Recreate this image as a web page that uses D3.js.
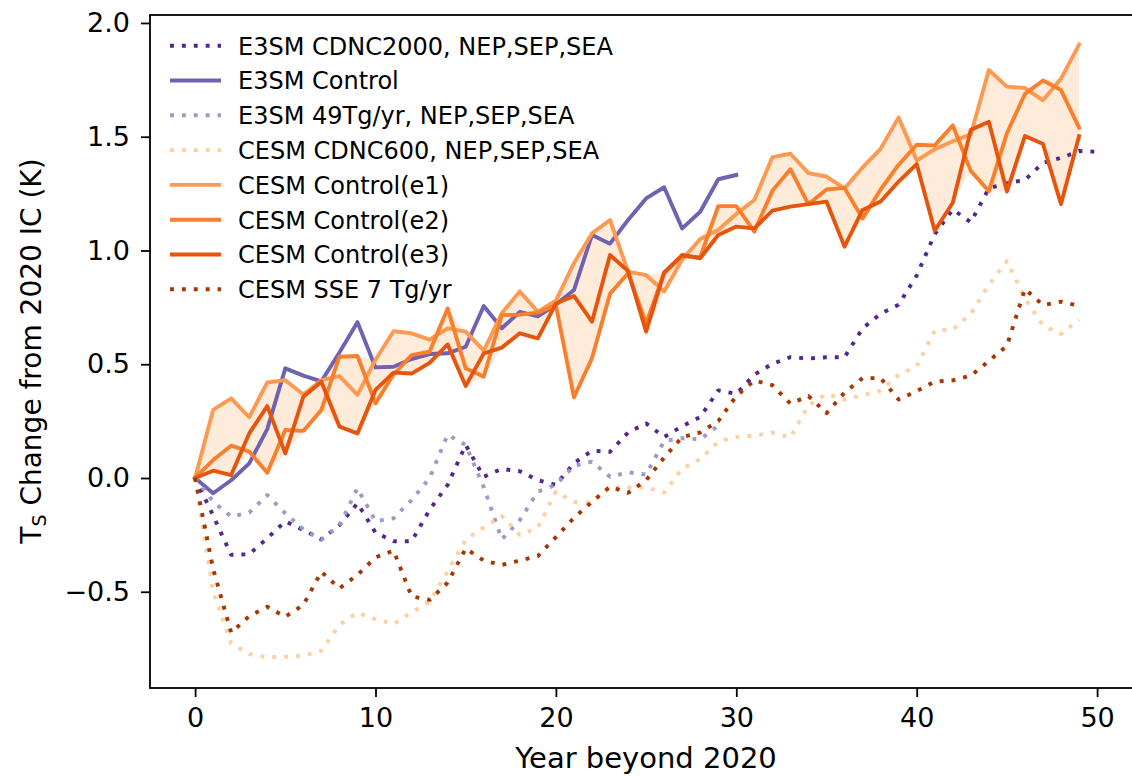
<!DOCTYPE html>
<html><head><meta charset="utf-8">
<script src="https://cdn.jsdelivr.net/npm/d3@7"></script>
<style>
body{margin:0;background:#fff}
svg{display:block}
text{font-family:"DejaVu Sans",sans-serif;fill:#000}
</style>
</head><body>
<svg id="chart" width="1132" height="776"></svg>
<script>
// ---- data ----
const e3smCdnc2000 = [0, -0.165, -0.338, -0.335, -0.265, -0.19, -0.229, -0.27, -0.207, -0.111, -0.24, -0.278, -0.278, -0.14, -0.03, 0.145, 0.005, 0.04, 0.03, -0.01, -0.03, 0.065, 0.12, 0.115, 0.2, 0.24, 0.18, 0.228, 0.268, 0.385, 0.37, 0.454, 0.502, 0.531, 0.525, 0.531, 0.531, 0.658, 0.722, 0.762, 0.89, 1.072, 1.18, 1.124, 1.273, 1.296, 1.31, 1.385, 1.407, 1.437, 1.434];
const e3smControl = [0, -0.067, -0.01, 0.064, 0.215, 0.482, 0.45, 0.425, 0.552, 0.685, 0.486, 0.489, 0.523, 0.545, 0.548, 0.577, 0.756, 0.658, 0.73, 0.71, 0.762, 0.826, 1.068, 1.03, 1.134, 1.229, 1.278, 1.097, 1.17, 1.313, 1.332];
const e3sm49Tg = [0, -0.104, -0.17, -0.152, -0.075, -0.155, -0.226, -0.27, -0.21, -0.045, -0.19, -0.177, -0.097, 0.0, 0.19, 0.145, -0.04, -0.27, -0.185, -0.06, -0.03, 0.053, 0.072, 0.005, 0.025, 0.015, 0.163, 0.175, 0.17, 0.23];
const cesmCdnc600 = [0, -0.5, -0.727, -0.774, -0.788, -0.785, -0.782, -0.759, -0.646, -0.592, -0.621, -0.642, -0.59, -0.544, -0.41, -0.27, -0.217, -0.167, -0.25, -0.218, -0.06, -0.105, -0.108, -0.041, -0.041, -0.041, -0.064, 0.042, 0.082, 0.16, 0.18, 0.186, 0.2, 0.178, 0.32, 0.369, 0.345, 0.364, 0.384, 0.453, 0.491, 0.648, 0.652, 0.722, 0.849, 0.953, 0.789, 0.67, 0.633, 0.696];
const cesmE1 = [0, 0.299, 0.35, 0.267, 0.42, 0.43, 0.367, 0.43, 0.448, 0.365, 0.52, 0.645, 0.636, 0.608, 0.658, 0.643, 0.56, 0.724, 0.82, 0.731, 0.78, 0.944, 1.075, 1.134, 0.907, 0.892, 0.82, 0.96, 1.05, 1.09, 1.16, 1.222, 1.41, 1.425, 1.34, 1.325, 1.273, 1.365, 1.447, 1.585, 1.395, 1.445, 1.48, 1.51, 1.793, 1.72, 1.714, 1.66, 1.755, 1.905];
const cesmE2 = [0, 0.079, 0.142, 0.116, 0.023, 0.211, 0.207, 0.299, 0.533, 0.536, 0.328, 0.455, 0.54, 0.555, 0.745, 0.482, 0.445, 0.716, 0.718, 0.727, 0.76, 0.355, 0.526, 0.81, 0.9, 0.68, 0.9, 0.975, 0.97, 1.195, 1.195, 1.083, 1.262, 1.357, 1.203, 1.268, 1.275, 1.14, 1.268, 1.377, 1.465, 1.462, 1.55, 1.35, 1.26, 1.515, 1.688, 1.747, 1.705, 1.54];
const cesmE3 = [0, 0.032, 0.013, 0.196, 0.316, 0.108, 0.357, 0.423, 0.226, 0.196, 0.387, 0.463, 0.459, 0.506, 0.587, 0.404, 0.548, 0.573, 0.636, 0.614, 0.767, 0.8, 0.687, 0.98, 0.91, 0.643, 0.904, 0.98, 0.966, 1.068, 1.105, 1.097, 1.175, 1.193, 1.204, 1.215, 1.017, 1.178, 1.215, 1.303, 1.38, 1.087, 1.21, 1.53, 1.566, 1.259, 1.503, 1.468, 1.204, 1.503];
const cesmSse = [0, -0.4, -0.68, -0.607, -0.566, -0.61, -0.558, -0.412, -0.485, -0.426, -0.349, -0.319, -0.52, -0.536, -0.46, -0.31, -0.363, -0.382, -0.363, -0.343, -0.26, -0.175, -0.105, -0.038, -0.065, -0.01, 0.09, 0.18, 0.2, 0.25, 0.36, 0.429, 0.408, 0.327, 0.36, 0.285, 0.375, 0.439, 0.439, 0.345, 0.382, 0.424, 0.429, 0.45, 0.514, 0.581, 0.831, 0.76, 0.775, 0.757];

const seriesNames = ["E3SM CDNC2000, NEP,SEP,SEA", "E3SM Control", "E3SM 49Tg/yr, NEP,SEP,SEA", "CESM CDNC600, NEP,SEP,SEA", "CESM Control(e1)", "CESM Control(e2)", "CESM Control(e3)", "CESM SSE 7 Tg/yr"];
const seriesValues = [e3smCdnc2000, e3smControl, e3sm49Tg, cesmCdnc600, cesmE1, cesmE2, cesmE3, cesmSse];
const xTickValues = [0, 10, 20, 30, 40, 50];
const yTickValues = [-0.5, 0.0, 0.5, 1.0, 1.5, 2.0];

// ---- styles ----
const colors = ["#54278f", "#6f62b0", "#9e9ac8", "#fdd0a2", "#fd9a52", "#f97f2c", "#e6550d", "#a63603"];
const dotted = [true, false, true, true, false, false, false, true];

const svg = d3.select("#chart");
const L = 150, T = 15, R = 1142.2, B = 688;
const x = d3.scaleLinear().domain([-2.5, 52.5]).range([L, R]);
const y = d3.scaleLinear().domain([-0.923, 2.035]).range([B, T]);

// ensemble envelope
const envelope = cesmE1.map((v, i) => ({i, lo: Math.min(v, cesmE2[i], cesmE3[i]), hi: Math.max(v, cesmE2[i], cesmE3[i])}));
svg.append("path")
  .attr("d", d3.area().x(d => x(d.i)).y0(d => y(d.lo)).y1(d => y(d.hi))(envelope))
  .attr("fill", "#fdae6b").attr("fill-opacity", 0.25).attr("stroke", "none");

const line = d3.line().x((d, i) => x(i)).y(d => y(d));
seriesValues.forEach((vals, k) => {
  svg.append("path").attr("d", line(vals))
    .attr("fill", "none").attr("stroke", colors[k])
    .attr("stroke-width", 3.9)
    .attr("stroke-linejoin", "round")
    .attr("stroke-dasharray", dotted[k] ? "3.9,8" : null)
    .attr("stroke-linecap", dotted[k] ? "butt" : "square");
});

// frame
svg.append("rect").attr("x", L).attr("y", T).attr("width", R - L).attr("height", B - T)
  .attr("fill", "none").attr("stroke", "#000").attr("stroke-width", 1.8);

// axes
const fmtY = d => d3.format(".1f")(d).replace("-", "\u2212");
const gx = svg.append("g").attr("transform", `translate(0,${B})`)
  .call(d3.axisBottom(x).tickValues(xTickValues).tickSize(9).tickPadding(11).tickFormat(d3.format("d")));
const gy = svg.append("g").attr("transform", `translate(${L},0)`)
  .call(d3.axisLeft(y).tickValues(yTickValues).tickSize(9).tickPadding(11).tickFormat(fmtY));
[gx, gy].forEach(g => {
  g.select(".domain").remove();
  g.selectAll(".tick line").attr("stroke", "#000").attr("stroke-width", 1.8);
  g.selectAll(".tick text").attr("font-size", 27).attr("font-family", "DejaVu Sans").attr("fill", "#000");
});

// axis labels
svg.append("text").attr("x", 646).attr("y", 768).attr("text-anchor", "middle")
  .attr("font-size", 29).text("Year beyond 2020");
const yl = svg.append("text").attr("transform", "translate(41,351) rotate(-90)")
  .attr("text-anchor", "middle").attr("font-size", 28);
yl.append("tspan").text("T");
yl.append("tspan").attr("font-size", 19).attr("dy", 5).text("S");
yl.append("tspan").attr("dy", -5).text(" Change from 2020 IC (K)");

// legend
const leg = svg.append("g");
seriesNames.forEach((name, k) => {
  const cy = 45.7 + 34.8 * k;
  leg.append("line").attr("x1", 170).attr("x2", 221).attr("y1", cy).attr("y2", cy)
    .attr("stroke", colors[k]).attr("stroke-width", 3.9)
    .attr("stroke-dasharray", dotted[k] ? "3.9,8" : null);
  leg.append("text").attr("x", 238).attr("y", cy + 8.8).attr("font-size", 24).text(name);
});
</script>
</body></html>
